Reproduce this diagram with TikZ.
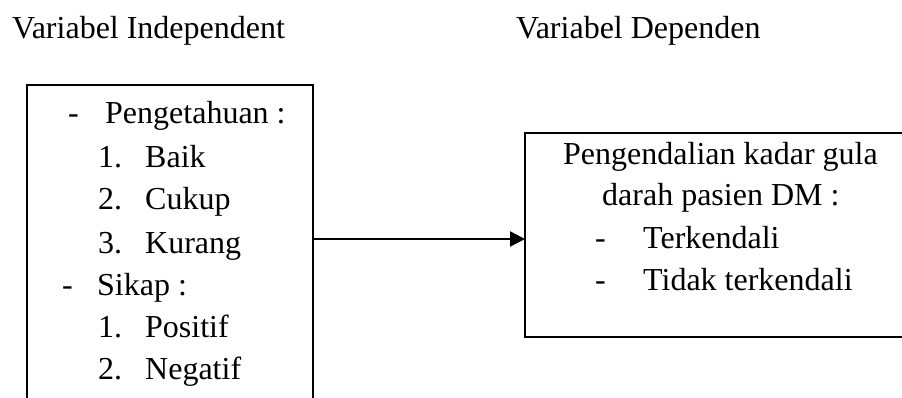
\documentclass[tikz,border=0pt]{standalone}
\usepackage{fontspec}
\setmainfont{Liberation Serif}
\usetikzlibrary{arrows.meta}
\begin{document}
\begin{tikzpicture}[x=1pt,y=-1pt,
  txt/.style={anchor=base west,inner sep=0pt,font=\fontsize{32}{38}\selectfont},
  box/.style={draw,line width=2pt,anchor=north west,inner sep=0pt,outer sep=0pt},
  conn/.style={line width=2.4pt,-{Triangle[length=15pt,width=15pt]}}]
\useasboundingbox (0,0) rectangle (902,398);
\clip (0,0) rectangle (902,398);
\fill[white] (0,0) rectangle (902,398);
% headings
\node[txt] (h1) at (12,39) {Variabel Independent};
\node[txt] (h2) at (516,39) {Variabel Dependen};
% boxes
\node[box,minimum width=286pt,minimum height=340pt] (indep) at (27,85) {};
\node[box,minimum width=400pt,minimum height=204pt] (dep) at (525,133) {};
% left box text
\node[txt] (d1) at (68,124) {-};
\node[txt] (t1) at (105,124) {Pengetahuan :};
\node[txt] (n1) at (98,168) {1.};
\node[txt] (t2) at (145,168) {Baik};
\node[txt] (n2) at (98,210) {2.};
\node[txt] (t3) at (145,210) {Cukup};
\node[txt] (n3) at (98,253) {3.};
\node[txt] (t4) at (145,253) {Kurang};
\node[txt] (d2) at (62,295) {-};
\node[txt] (t5) at (97,295) {Sikap :};
\node[txt] (n4) at (98,337) {1.};
\node[txt] (t6) at (145,337) {Positif};
\node[txt] (n5) at (98,379) {2.};
\node[txt] (t7) at (145,379) {Negatif};
% right box text
\node[txt] (r1) at (563,165) {Pengendalian kadar gula};
\node[txt] (r2) at (602,206) {darah pasien DM :};
\node[txt] (d3) at (595,248) {-};
\node[txt] (r3) at (643,248) {Terkendali};
\node[txt] (d4) at (595,290) {-};
\node[txt] (r4) at (643,290) {Tidak terkendali};
% connector
\coordinate (ay) at (0,239);
\draw[conn] (indep.east |- ay) -- (dep.west |- ay);
\end{tikzpicture}
\end{document}
